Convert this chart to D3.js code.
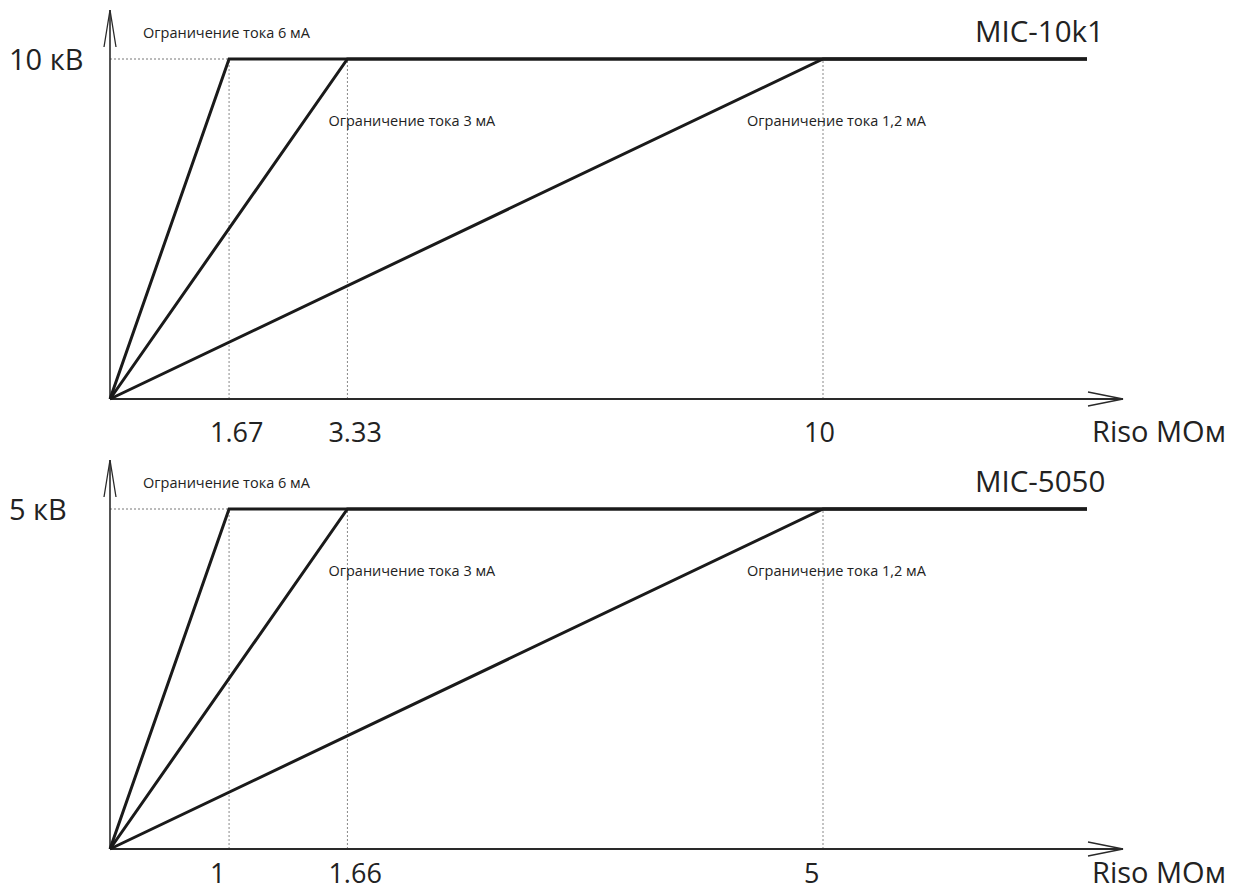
<!DOCTYPE html>
<html>
<head>
<meta charset="utf-8">
<script src="https://cdn.jsdelivr.net/npm/d3@7"></script>
<style>
  html, body { margin: 0; padding: 0; background: #fff; }
  svg text { font-family: "Open Sans", sans-serif; fill: #222; }
</style>
</head>
<body>
<script>
/**
 * Chart data
 */

// upper diagram (MIC-10k1)
const TOP_TITLE = "MIC-10k1";
const TOP_VMAX = 10;                     // kV
const TOP_VLABEL = "10 кВ";
const TOP_KNEES = [1.67, 3.33, 10];      // MOhm where current limit ends
const TOP_TICKS = ["1.67", "3.33", "10"];

// lower diagram (MIC-5050)
const BOT_TITLE = "MIC-5050";
const BOT_VMAX = 5;
const BOT_VLABEL = "5 кВ";
const BOT_KNEES = [1, 1.66, 5];
const BOT_TICKS = ["1", "1.66", "5"];

const CURRENTS = ["6", "3", "1,2"];      // mA
const X_TITLE = "Riso MOм";

/**
 * Layout
 */

const WIDTH = 1240;
const HEIGHT = 892;
const PANEL_SHIFT = 450;     // lower panel is the same drawing moved down

const X0 = 110;              // y axis position
const X_KNEE_LAST = 823;     // position of the last knee on the upper panel
const X_LINE_END = 1087;     // end of the flat part
const X_ARROW_END = 1123;    // tip of the x arrow
const Y0 = 399;              // x axis position (upper panel)
const Y_VMAX = 59;           // voltage limit (upper panel)
const Y_ARROW_END = 10;      // tip of the y arrow (upper panel)

const svg = d3.select("body")
    .append("svg")
    .attr("width", WIDTH)
    .attr("height", HEIGHT);

// upper x scale is linear, the lower one reuses the same positions
const xTop = d3.scaleLinear()
    .domain([0, TOP_KNEES[2]])
    .range([X0, X_KNEE_LAST]);

const xBot = d3.scaleLinear()
    .domain([0].concat(BOT_KNEES))
    .range([0].concat(TOP_KNEES).map(xTop));

// last arg: baseline of the x labels inside the panel
drawPanel(0, xTop, TOP_VMAX, TOP_KNEES, TOP_TICKS, TOP_VLABEL, TOP_TITLE, 442);
drawPanel(PANEL_SHIFT, xBot, BOT_VMAX, BOT_KNEES, BOT_TICKS, BOT_VLABEL, BOT_TITLE, 433);

function drawPanel(dy, x, vmax, knees, ticks, vlabel, title, labelY) {
    const g = svg.append("g").attr("transform", `translate(0,${dy})`);

    const y = d3.scaleLinear()
        .domain([0, vmax])
        .range([Y0, Y_VMAX]);

    // dotted guides
    g.append("line")
        .attr("x1", x(0)).attr("x2", x(knees[0]))
        .attr("y1", y(vmax)).attr("y2", y(vmax))
        .attr("stroke", "#777").attr("stroke-width", 1)
        .attr("stroke-dasharray", "2,2");

    g.selectAll(".guide")
        .data(knees)
        .join("line")
        .attr("class", "guide")
        .attr("x1", d => x(d)).attr("x2", d => x(d))
        .attr("y1", y(0)).attr("y2", y(vmax))
        .attr("stroke", "#888").attr("stroke-width", 1)
        .attr("stroke-dasharray", "2,2");

    // axes with open arrows
    const axis = g.append("g")
        .attr("stroke", "#2a2a2a")
        .attr("fill", "none");

    axis.append("line")
        .attr("x1", X0).attr("x2", X0)
        .attr("y1", Y0).attr("y2", Y_ARROW_END)
        .attr("stroke-width", 1.6);
    axis.append("path")
        .attr("d", `M${X0 - 6},${Y_ARROW_END + 37}L${X0},${Y_ARROW_END}L${X0 + 6},${Y_ARROW_END + 37}`)
        .attr("stroke-width", 1.3);

    axis.append("line")
        .attr("x1", X0).attr("x2", X_ARROW_END)
        .attr("y1", Y0).attr("y2", Y0)
        .attr("stroke-width", 2);
    axis.append("path")
        .attr("d", `M${X_ARROW_END - 35},${Y0 - 7}L${X_ARROW_END},${Y0}L${X_ARROW_END - 35},${Y0 + 7}`)
        .attr("stroke-width", 1.3);

    // characteristic lines: rise with constant current, then constant voltage
    const line = d3.line()
        .x(d => d[0])
        .y(d => y(d[1]));

    g.selectAll(".limit")
        .data(knees)
        .join("path")
        .attr("class", "limit")
        .attr("d", k => line([[x(0), 0], [x(k), vmax], [X_LINE_END, vmax]]))
        .attr("fill", "none")
        .attr("stroke", "#1a1a1a")
        .attr("stroke-width", 3)
        .attr("stroke-linejoin", "miter");

    // tick labels
    g.selectAll(".tick-label")
        .data(ticks)
        .join("text")
        .attr("class", "tick-label")
        .attr("x", (d, i) => x(knees[i]) - 19)
        .attr("y", labelY)
        .attr("font-size", 27)
        .text(d => d);

    g.append("text")
        .attr("x", 1092).attr("y", labelY)
        .attr("font-size", 29)
        .text(X_TITLE);

    g.append("text")
        .attr("x", 9).attr("y", 70)
        .attr("font-size", 29)
        .text(vlabel);

    g.append("text")
        .attr("x", 975).attr("y", 42)
        .attr("font-size", 29.5)
        .text(title);

    // current limit notes
    const notePos = [
        [X0 + 33, 38],
        [x(knees[1]) - 19, 126],
        [x(knees[2]) - 76, 126]
    ];
    g.selectAll(".note")
        .data(CURRENTS)
        .join("text")
        .attr("class", "note")
        .attr("x", (d, i) => notePos[i][0])
        .attr("y", (d, i) => notePos[i][1])
        .attr("font-size", 14.5)
        .text(d => `Ограничение тока ${d} мА`);
}
</script>
</body>
</html>
